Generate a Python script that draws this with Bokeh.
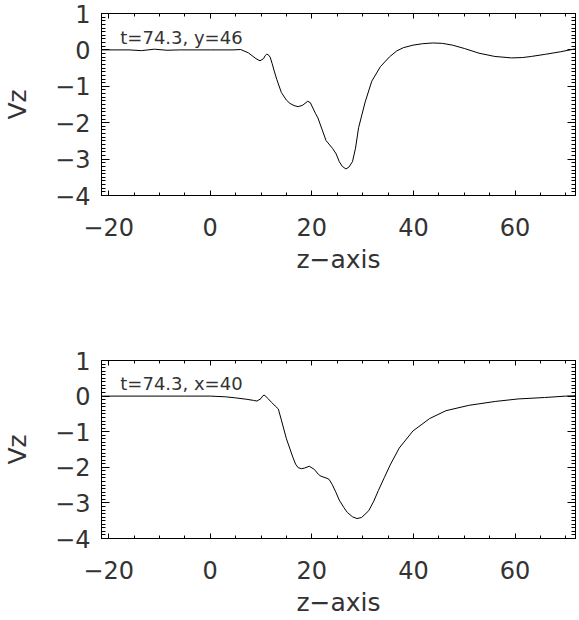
from bokeh.plotting import figure
from bokeh.models import LinearAxis, SingleIntervalTicker, Label, Range1d, CustomLabelingPolicy
from bokeh.layouts import column
from bokeh.embed import file_html
from bokeh.resources import INLINE

# ---- data ----
z_top = [-21.4, -16.0, -13.5, -11.0, -8.5, -6.0, 0.0, 4.5, 6.0, 7.5, 9.0, 9.8, 10.5, 10.8, 11.1,
         11.4, 11.8, 12.2, 12.6, 13.1, 14.0, 15.0, 15.7, 16.5, 17.3, 18.2, 19.2, 19.7, 20.7, 21.2, 22.0,
         22.8, 24.1, 24.8, 25.4, 26.0, 26.7, 27.3, 28.0, 28.6, 29.2, 30.5, 31.8, 33.5, 35.3,
         36.7, 38.0, 39.9, 41.8, 43.8, 45.7, 47.7, 50.0, 52.9, 56.0, 59.3, 61.5, 63.2, 66.0,
         69.0, 71.9]
vz_top = [0.00, 0.00, -0.02, 0.02, -0.01, 0.00, 0.00, 0.00, 0.01, -0.08, -0.24, -0.30, -0.24, -0.16, -0.12,
          -0.13, -0.20, -0.38, -0.58, -0.81, -1.17, -1.38, -1.47, -1.53, -1.56, -1.52, -1.41, -1.45, -1.74, -1.87, -2.18,
          -2.49, -2.71, -2.86, -3.07, -3.20, -3.27, -3.22, -3.07, -2.70, -2.14, -1.43, -0.86, -0.46, -0.19,
          -0.03, 0.06, 0.13, 0.17, 0.19, 0.18, 0.13, 0.04, -0.09, -0.18, -0.22, -0.21, -0.18, -0.12,
          -0.05, 0.03]

z_bot = [-21.4, -5.0, 0.0, 3.0, 5.0, 7.2, 8.5, 9.2, 10.0, 10.3, 10.6, 10.9, 11.3, 12.1, 12.8, 13.4, 14.0,
         15.0, 16.3, 16.8, 17.3, 18.0, 18.6, 19.5, 20.5, 21.3, 21.8, 23.0, 23.4, 24.0, 24.7,
         25.4, 26.3, 27.0, 28.0, 28.9, 29.8, 31.2, 32.2, 33.1, 34.3, 35.4, 37.2, 39.9, 43.2,
         46.4, 50.9, 56.1, 60.6, 65.8, 70.0, 71.9]
vz_bot = [0.00, 0.00, 0.00, -0.02, -0.05, -0.09, -0.12, -0.14, -0.07, 0.00, 0.03, 0.00, -0.06, -0.18, -0.28, -0.36, -0.67,
          -1.20, -1.73, -1.91, -2.01, -2.04, -2.02, -1.97, -2.06, -2.20, -2.25, -2.31, -2.34, -2.48, -2.69,
          -2.92, -3.13, -3.27, -3.39, -3.44, -3.41, -3.22, -2.95, -2.65, -2.28, -1.94, -1.46, -0.98, -0.63,
          -0.41, -0.26, -0.15, -0.08, -0.04, 0.00, 0.01]

x_limits = (-21.4, 71.9)
y_limits = (-4.0, 1.0)
x_ticks = [-20, 0, 20, 40, 60]
x_tick_labels = ["\u221220", "0", "20", "40", "60"]
y_ticks = [1, 0, -1, -2, -3, -4]
y_tick_labels = ["1", "0", "\u22121", "\u22122", "\u22123", "\u22124"]
notes = ["t=74.3, y=46", "t=74.3, x=40"]
x_title = "z\u2212axis"
y_title = "Vz"

FONT = "DejaVu Sans"
TXT = "#333333"
note_x, note_y = -17.7, 0.34


def style_axis(ax, major_in, minor_in, labels=True):
    ax.major_tick_in = major_in
    ax.major_tick_out = 0
    ax.minor_tick_in = minor_in
    ax.minor_tick_out = 0
    ax.axis_line_color = "black"
    ax.major_tick_line_color = "black"
    ax.minor_tick_line_color = "black"
    if labels:
        ax.major_label_text_font = FONT
        ax.major_label_text_font_size = "24px"
        ax.major_label_text_color = TXT
        ax.axis_label_text_font = FONT
        ax.axis_label_text_font_size = "25px"
        ax.axis_label_text_font_style = "normal"
        ax.axis_label_text_color = TXT
    else:
        ax.major_label_text_font_size = "1px"
        ax.major_label_standoff = 0
        ax.axis_label = None
        ax.major_label_policy = CustomLabelingPolicy(
            code="for (const i of indices) { indices.unset(i) } return indices")


def panel(z, vz, note, height, top, bottom):
    p = figure(width=579, height=height,
               x_range=Range1d(*x_limits), y_range=Range1d(*y_limits),
               output_backend="svg", toolbar_location=None,
               min_border_left=96, min_border_right=1,
               min_border_top=top, min_border_bottom=bottom,
               x_axis_label=x_title, y_axis_label=y_title)
    p.grid.visible = False
    p.outline_line_color = "black"
    p.background_fill_color = "white"
    p.border_fill_color = "white"

    p.xaxis.ticker = SingleIntervalTicker(interval=20, num_minor_ticks=4)
    p.yaxis.ticker = SingleIntervalTicker(interval=1, num_minor_ticks=10)
    p.xaxis.major_label_overrides = dict(zip(x_ticks, x_tick_labels))
    p.yaxis.major_label_overrides = dict(zip(y_ticks, y_tick_labels))
    style_axis(p.xaxis[0], 5, 3)
    style_axis(p.yaxis[0], 8, 4)
    p.xaxis.major_label_standoff = 22
    p.xaxis.axis_label_standoff = 6
    p.yaxis.major_label_standoff = 11
    p.yaxis.axis_label_standoff = 20

    top_ax = LinearAxis(ticker=SingleIntervalTicker(interval=20, num_minor_ticks=4))
    style_axis(top_ax, 5, 3, labels=False)
    p.add_layout(top_ax, "above")
    right_ax = LinearAxis(ticker=SingleIntervalTicker(interval=1, num_minor_ticks=10))
    style_axis(right_ax, 8, 4, labels=False)
    p.add_layout(right_ax, "right")

    p.line(z, vz, line_color="black", line_width=1)

    p.add_layout(Label(x=note_x, y=note_y, text=note, text_font=FONT,
                       text_font_size="18px", text_color=TXT, text_baseline="middle"))
    return p


p1 = panel(z_top, vz_top, notes[0], 347, 13, 152)
p2 = panel(z_bot, vz_bot, notes[1], 272, 13, 77)
layout = column(p1, p2)

open("out.html", "w").write(file_html(layout, INLINE))
